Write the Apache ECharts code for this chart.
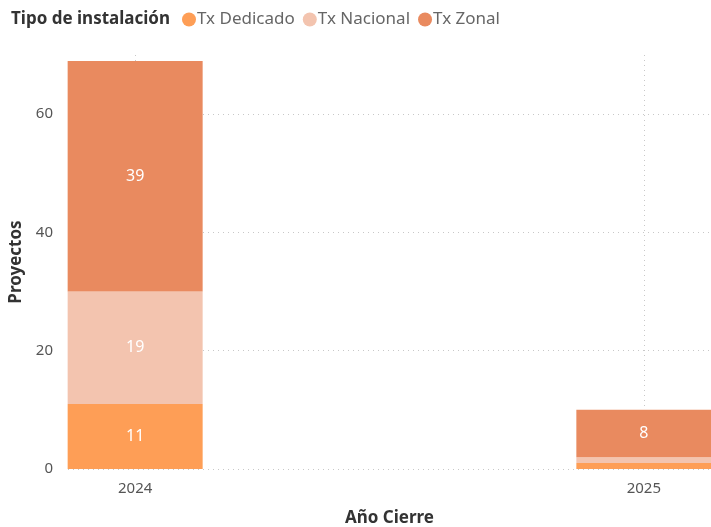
<!DOCTYPE html>
<html>
<head>
<meta charset="utf-8">
<script src="https://cdn.jsdelivr.net/npm/echarts@6/dist/echarts.min.js"></script>
<style>
  html, body { margin: 0; padding: 0; background: #fff; }
  #chart { width: 711px; height: 527px; }
</style>
</head>
<body>
<div id="chart"></div>
<script>
// datos del gráfico
const years = [2024, 2025];
const dedicado = [11, 1];
const nacional = [19, 1];
const zonal = [39, 8];
const yTicks = [0, 20, 40, 60];

const font = "Noto Sans";
const chart = echarts.init(document.getElementById("chart"));

// [valor, año] -> la primera dimensión (y) es la que se apila
const makeSeries = (name, values, color) => ({
  name: name,
  type: "bar",
  stack: "total",
  barWidth: 135,
  clip: false,
  encode: { x: 1, y: 0 },
  data: years.map((y, i) => [values[i], y]),
  itemStyle: { color: color },
  label: {
    show: true,
    position: "inside",
    color: "#fff",
    fontFamily: font,
    fontSize: 16,
    // sin etiqueta en segmentos muy pequeños
    formatter: (p) => (p.value[0] >= 3 ? p.value[0] : "")
  }
});

chart.setOption({
  animation: false,
  title: {
    text: "Tipo de instalación",
    left: 6,
    top: 6,
    textStyle: { fontFamily: font, fontSize: 17, fontWeight: "bold", color: "#333" }
  },
  legend: {
    left: 177,
    top: 6,
    icon: "circle",
    itemWidth: 14,
    itemHeight: 14,
    itemGap: 8,
    textStyle: { fontFamily: font, fontSize: 17, color: "#666", padding: [0, 0, 0, -4] },
    data: ["Tx Dedicado", "Tx Nacional", "Tx Zonal"]
  },
  grid: { left: 68, right: 0, top: 55, bottom: 58, outerBoundsMode: "none", containLabel: false },
  xAxis: {
    type: "value",
    min: 2023.868,
    max: 2025.132,
    name: "Año Cierre",
    nameLocation: "middle",
    nameGap: 41,
    nameTextStyle: { fontFamily: font, fontSize: 17, fontWeight: "bold", color: "#333" },
    axisLine: { show: false },
    axisTick: { show: false, customValues: years },
    axisLabel: {
      customValues: years,
      fontFamily: font,
      fontSize: 15,
      color: "#555",
      margin: 12,
      formatter: (v) => String(v)
    },
    splitLine: {
      show: true,
      lineStyle: { type: [1, 4], color: "#c8c8c8" }
    }
  },
  yAxis: {
    type: "value",
    min: 0,
    max: 70,
    interval: 20,
    name: "Proyectos",
    nameLocation: "middle",
    nameGap: 40,
    nameTextStyle: { fontFamily: font, fontSize: 17, fontWeight: "bold", color: "#333" },
    axisLine: { show: false },
    axisTick: { show: false },
    axisLabel: {
      customValues: yTicks,
      fontFamily: font,
      fontSize: 15,
      color: "#555",
      margin: 15
    },
    splitLine: {
      show: true,
      showMaxLine: false,
      lineStyle: { type: [1, 4], color: "#c8c8c8" }
    }
  },
  series: [
    makeSeries("Tx Dedicado", dedicado, "#FE9E56"),
    makeSeries("Tx Nacional", nacional, "#F3C4AF"),
    makeSeries("Tx Zonal", zonal, "#E98A5F")
  ]
});
</script>
</body>
</html>
